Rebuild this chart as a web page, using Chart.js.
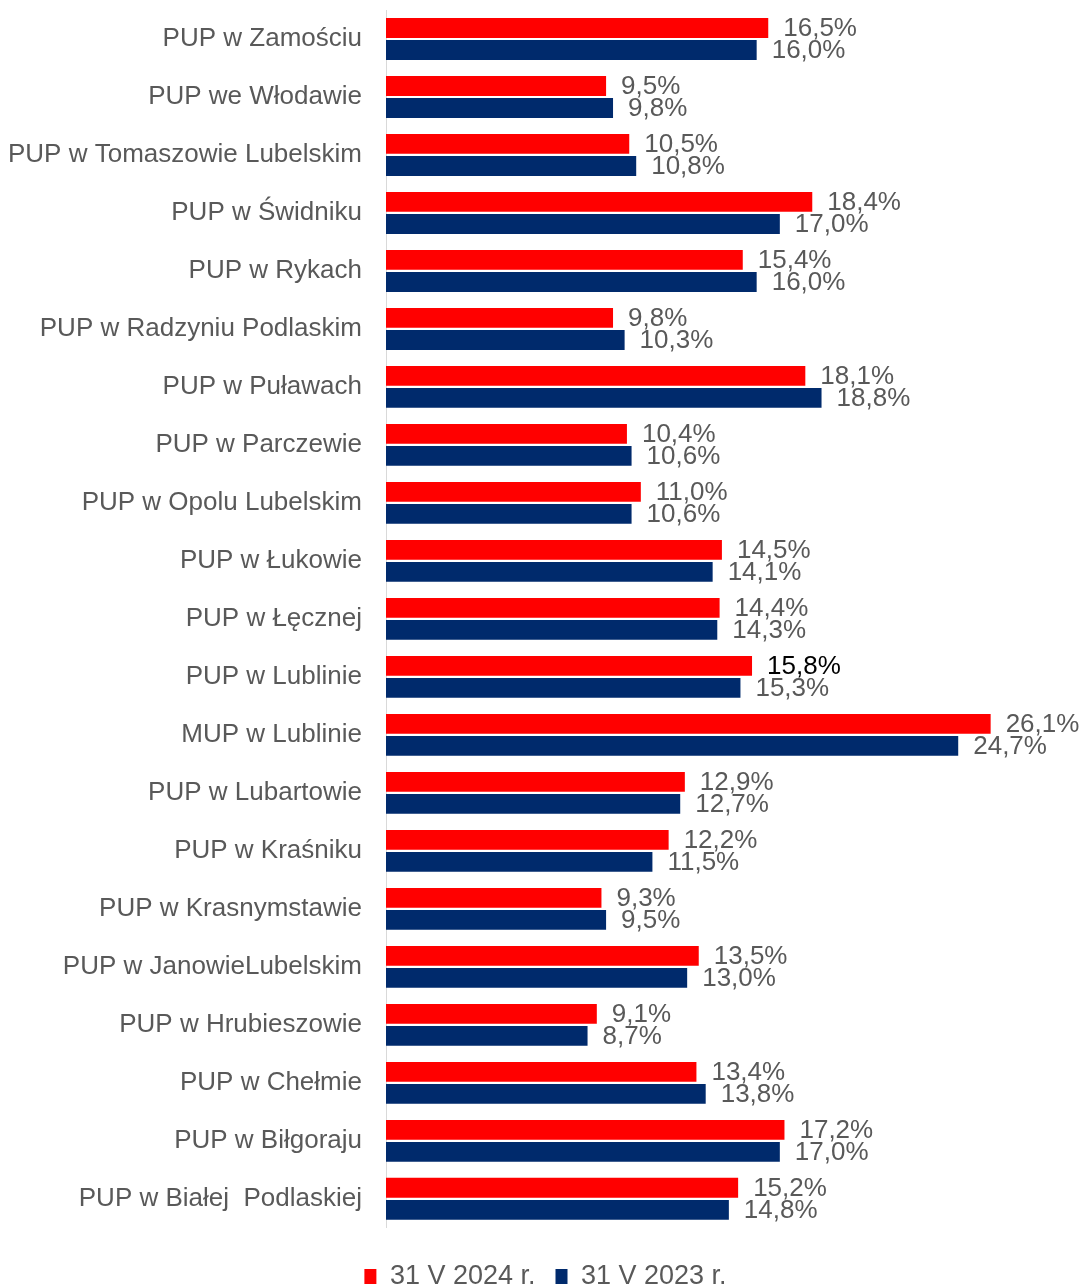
<!DOCTYPE html>
<html>
<head>
<meta charset="utf-8">
<script src="https://cdn.jsdelivr.net/npm/chart.js@4"></script>
<style>
  html, body { margin: 0; padding: 0; background: #fff; }
  #wrap { width: 1085px; height: 1287px; position: relative; }
</style>
</head>
<body>
<div id="wrap"><canvas id="chart"></canvas></div>
<script>
// Urzędy pracy (od góry do dołu)
const urzedy = [
    "PUP w Zamościu", "PUP we Włodawie", "PUP w Tomaszowie Lubelskim", "PUP w Świdniku",
    "PUP w Rykach", "PUP w Radzyniu Podlaskim", "PUP w Puławach", "PUP w Parczewie",
    "PUP w Opolu Lubelskim", "PUP w Łukowie", "PUP w Łęcznej", "PUP w Lublinie",
    "MUP w Lublinie", "PUP w Lubartowie", "PUP w Kraśniku", "PUP w Krasnymstawie",
    "PUP w JanowieLubelskim", "PUP w Hrubieszowie", "PUP w Chełmie", "PUP w Biłgoraju",
    "PUP w Białej  Podlaskiej"
];
// Stopa bezrobocia w %
const rok2024 = [16.5, 9.5, 10.5, 18.4, 15.4, 9.8, 18.1, 10.4, 11.0, 14.5, 14.4, 15.8, 26.1, 12.9, 12.2, 9.3, 13.5, 9.1, 13.4, 17.2, 15.2];
const rok2023 = [16.0, 9.8, 10.8, 17.0, 16.0, 10.3, 18.8, 10.6, 10.6, 14.1, 14.3, 15.3, 24.7, 12.7, 11.5, 9.5, 13.0, 8.7, 13.8, 17.0, 14.8];
const legendy = ["31 V 2024 r.", "31 V 2023 r."];

const FONT = "'Liberation Sans', Arial, sans-serif";
const SZARY = "#595959";

// Etykiety wartości przy końcu słupków
const etykiety = {
    id: 'etykiety',
    afterDatasetsDraw(chart) {
        const ctx = chart.ctx;
        ctx.save();
        ctx.font = "26px " + FONT;
        ctx.textBaseline = "middle";
        ctx.textAlign = "left";
        chart.data.datasets.forEach((ds, i) => {
            chart.getDatasetMeta(i).data.forEach((bar, j) => {
                const txt = ds.data[j].toFixed(1).replace('.', ',') + "%";
                // jedna etykieta w oryginale jest czarna
                ctx.fillStyle = (i === 0 && j === 11) ? "#000" : SZARY;
                ctx.fillText(txt, bar.x + 15, bar.y + 1);
            });
        });
        ctx.restore();
    }
};

Chart.defaults.font.family = FONT;

new Chart(document.getElementById('chart'), {
    type: 'bar',
    data: {
        labels: urzedy,
        datasets: [
            { label: legendy[0], data: rok2024, backgroundColor: "#ff0000" },
            { label: legendy[1], data: rok2023, backgroundColor: "#002a6c" },
        ],
    },
    options: {
        indexAxis: 'y',
        responsive: true,
        maintainAspectRatio: false,
        animation: false,
        categoryPercentage: 0.76,
        barPercentage: 0.9,
        layout: { padding: { left: 10, right: 4, top: 10, bottom: -13 } },
        scales: {
            x: {
                min: 0,
                max: 30,
                display: false,
            },
            y: {
                grid: { display: false, drawTicks: false },
                border: { display: true, color: "#d9d9d9", width: 1 },
                ticks: {
                    color: SZARY,
                    font: { size: 26 },
                    padding: 24,
                    autoSkip: false,
                },
                afterFit(scale) {
                    scale.width = 376;
                    scale.paddingTop = 0;
                    scale.paddingBottom = 0;
                },
            },
        },
        plugins: {
            legend: {
                position: 'bottom',
                title: { display: true, text: '', font: { size: 1 }, padding: { top: 14, bottom: 0 } },
                labels: {
                    color: SZARY,
                    font: { size: 27 },
                    boxWidth: 12,
                    boxHeight: 15,
                    padding: 20,
                },
            },
            tooltip: { enabled: false },
        },
    },
    plugins: [etykiety],
});
</script>
</body>
</html>
